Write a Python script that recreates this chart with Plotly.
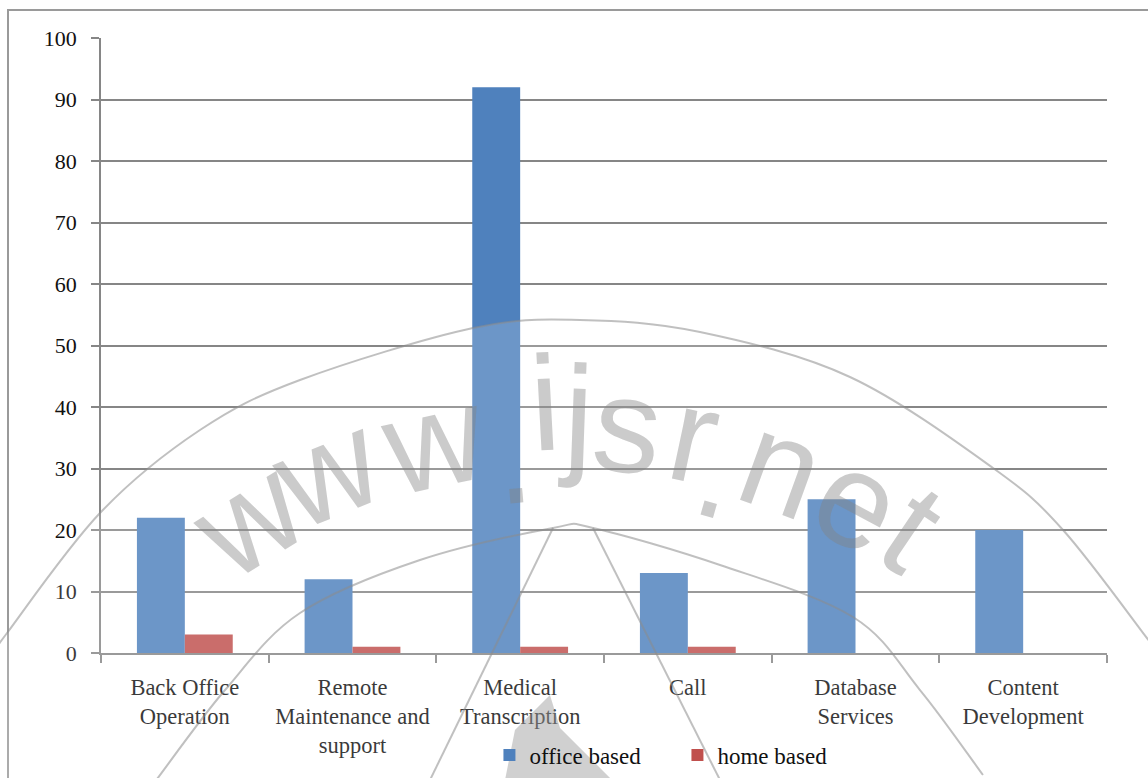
import plotly.graph_objects as go

categories = ["Back Office<br>Operation", "Remote<br>Maintenance and<br>support",
              "Medical<br>Transcription", "Call", "Database<br>Services", "Content<br>Development"]
office_based = [22, 12, 92, 13, 25, 20]
home_based = [3, 1, 1, 1, 0, 0]
y_ticks = [0, 10, 20, 30, 40, 50, 60, 70, 80, 90, 100]

FONT = "Liberation Serif"
TXT = "#111111"

# plot area in pixels (for placing the decorative watermark)
PL, PR, PT, PB = 101, 1107, 38, 653


def px(x, y):
    return (x - PL) / (PR - PL), (PB - y) / (PB - PT)


def smooth_path(pts, close_extra=None):
    p = [px(*q) for q in pts]
    d = f"M {p[0][0]:.4f},{p[0][1]:.4f}"
    for i in range(len(p) - 1):
        p0 = p[i - 1] if i > 0 else p[i]
        p1, p2 = p[i], p[i + 1]
        p3 = p[i + 2] if i + 2 < len(p) else p[i + 1]
        c1 = (p1[0] + (p2[0] - p0[0]) / 6, p1[1] + (p2[1] - p0[1]) / 6)
        c2 = (p2[0] - (p3[0] - p1[0]) / 6, p2[1] - (p3[1] - p1[1]) / 6)
        d += f" C {c1[0]:.4f},{c1[1]:.4f} {c2[0]:.4f},{c2[1]:.4f} {p2[0]:.4f},{p2[1]:.4f}"
    if close_extra:
        for q in close_extra:
            x, y = px(*q)
            d += f" L {x:.4f},{y:.4f}"
        d += " Z"
    return d


fig = go.Figure()
fig.add_trace(go.Bar(x=categories, y=office_based, name="office based",
                     marker=dict(color="#4F81BD", line=dict(width=0))))
fig.add_trace(go.Bar(x=categories, y=home_based, name="home based",
                     marker=dict(color="#C0504D", line=dict(width=0))))

# ---- watermark decoration ----
outer = [(-2, 648), (7, 633), (100, 513), (200, 430), (300, 380), (473, 328), (580, 320),
         (700, 332), (850, 377), (993, 468), (1063, 530), (1150, 642)]
inner = [(157, 779), (225, 690), (300, 613), (420, 560), (553, 528), (593, 528),
         (720, 565), (853, 617), (920, 690), (983, 775)]
wm_line = "rgba(140,140,140,0.55)"
shapes = [
    dict(type="rect", xref="paper", yref="paper", x0=px(8, 0)[0], x1=px(1200, 0)[0],
         y0=px(0, 900)[1], y1=px(0, 10)[1], line=dict(color="#9a9a9a", width=2), layer="below"),
    dict(type="path", xref="paper", yref="paper",
         path=smooth_path(outer, close_extra=[(1150, 780), (-2, 780)]),
         fillcolor="rgba(255,255,255,0.17)", line=dict(width=0), layer="above"),
    dict(type="path", xref="paper", yref="paper", path=smooth_path(outer),
         line=dict(color=wm_line, width=2), layer="above"),
    dict(type="path", xref="paper", yref="paper", path=smooth_path(inner),
         line=dict(color=wm_line, width=2), layer="above"),
    dict(type="line", xref="paper", yref="paper", x0=px(553, 528)[0], y0=px(553, 528)[1],
         x1=px(430, 780)[0], y1=px(430, 780)[1], line=dict(color=wm_line, width=2), layer="above"),
    dict(type="line", xref="paper", yref="paper", x0=px(593, 528)[0], y0=px(593, 528)[1],
         x1=px(720, 780)[0], y1=px(720, 780)[1], line=dict(color=wm_line, width=2), layer="above"),
    dict(type="path", xref="paper", yref="paper",
         path="M " + " L ".join(f"{px(a, b)[0]:.4f},{px(a, b)[1]:.4f}" for a, b in
                                [(550, 695), (560, 728), (612, 780), (505, 780), (515, 730)]) + " Z",
         fillcolor="rgba(150,150,150,0.45)", line=dict(width=0), layer="above"),
]

wm = [("w", 247, 530, -32), ("w", 326, 482, -22), ("w", 433, 452, -12),
      (".", 513, 468, -5), ("i", 545, 415, -3), ("j", 577, 425, 2),
      ("s", 628, 437, 6), ("r", 694, 447, 12), (".", 720, 483, 16),
      ("n", 782, 477, 20), ("e", 858, 512, 28), ("t", 913, 540, 34)]
annotations = []
for ch, x, y, ang in wm:
    xp, yp = px(x, y - 12)
    annotations.append(dict(text=ch, x=xp, y=yp, xref="paper", yref="paper",
                            xanchor="center", yanchor="middle",
                            showarrow=False, textangle=ang,
                            font=dict(family="Liberation Sans", size=135,
                                      color="rgba(130,130,130,0.42)")))

fig.update_layout(
    width=1148, height=778,
    margin=dict(l=PL, r=1148 - PR, t=PT, b=778 - PB, autoexpand=False),
    paper_bgcolor="white", plot_bgcolor="white",
    barmode="group", bargap=0.4286, bargroupgap=0,
    font=dict(family=FONT, size=22, color=TXT),
    showlegend=True,
    legend=dict(orientation="h", x=0.573, y=(PB - 755) / (PB - PT),
                xanchor="center", yanchor="middle", entrywidth=143, entrywidthmode="pixels",
                font=dict(family=FONT, size=23, color=TXT),
                bgcolor="rgba(0,0,0,0)"),
    xaxis=dict(type="category", tickson="boundaries", ticks="outside", ticklen=8,
               tickcolor="#868686", tickwidth=1.5, showline=True, linecolor="#868686",
               linewidth=1.5, showgrid=False, ticklabelstandoff=13, automargin=False,
               tickfont=dict(family=FONT, size=22.5, color=TXT)),
    yaxis=dict(range=[0, 100], tickvals=y_ticks, ticks="outside", ticklen=8,
               tickcolor="#868686", tickwidth=1.5, showline=True, linecolor="#868686",
               linewidth=1.5, showgrid=True, gridcolor="#868686", gridwidth=1.5,
               zeroline=False, ticklabelstandoff=10, automargin=False,
               tickfont=dict(family=FONT, size=22, color=TXT)),
    shapes=shapes,
    annotations=annotations,
)

fig.write_html("out.html")
